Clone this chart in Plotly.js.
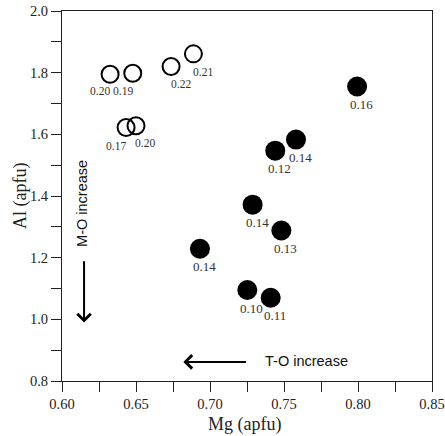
<!DOCTYPE html>
<html>
<head>
<meta charset="utf-8">
<script src="https://cdn.plot.ly/plotly-3.0.1.min.js"></script>
<style>html,body{margin:0;padding:0;background:#fff;}#chart{width:445px;height:436px;}</style>
</head>
<body>
<div id="chart"></div>
<script>
// ---- data ----
var openMg = [0.6325, 0.6478, 0.6737, 0.6888, 0.6433, 0.6500];
var openAl = [1.795, 1.798, 1.820, 1.861, 1.622, 1.628];
var openLabels = ['0.20', '0.19', '0.22', '0.21', '0.17', '0.20'];

var filledMg = [0.7994, 0.7441, 0.7581, 0.7288, 0.7482, 0.6932, 0.7252, 0.7410];
var filledAl = [1.755, 1.547, 1.583, 1.372, 1.288, 1.229, 1.095, 1.070];
var filledLabels = ['0.16', '0.12', '0.14', '0.14', '0.13', '0.14', '0.10', '0.11'];

var xTickVals = [0.60, 0.625, 0.65, 0.675, 0.70, 0.725, 0.75, 0.775, 0.80, 0.825, 0.85];
var xTickText = ['0.60', '', '0.65', '', '0.70', '', '0.75', '', '0.80', '', '0.85'];
var yTickVals = [0.8, 0.9, 1.0, 1.1, 1.2, 1.3, 1.4, 1.5, 1.6, 1.7, 1.8, 1.9, 2.0];
var yTickText = ['0.8', '', '1.0', '', '1.2', '', '1.4', '', '1.6', '', '1.8', '', '2.0'];

// ---- label placement (style) ----
var openDx = [-10, -10, 10, 10, -10.5, 9];
var openDy = [17, 18, 17, 18, 18, 17];
var filledDx = 4.5, filledDy = 18;

var serif = "Liberation Serif";
var sans = "Liberation Sans";

var traces = [
  {
    x: openMg, y: openAl, type: 'scatter', mode: 'markers',
    marker: {size: 17, color: 'rgba(0,0,0,0)', line: {color: '#000', width: 2}},
    hoverinfo: 'skip', showlegend: false
  },
  {
    x: filledMg, y: filledAl, type: 'scatter', mode: 'markers',
    marker: {size: 20, color: '#000', line: {width: 0}},
    hoverinfo: 'skip', showlegend: false
  }
];

function txt(o) { o.xanchor = 'center'; o.yanchor = 'middle'; o.showarrow = false; return o; }

var annotations = [];
openMg.forEach(function (m, i) {
  annotations.push(txt({x: m, y: openAl[i], xref: 'x', yref: 'y', text: openLabels[i],
    xshift: openDx[i], yshift: -openDy[i],
    font: {family: serif, size: 11.5, color: '#333'}}));
});
filledMg.forEach(function (m, i) {
  annotations.push(txt({x: m, y: filledAl[i], xref: 'x', yref: 'y', text: filledLabels[i],
    xshift: filledDx, yshift: -filledDy,
    font: {family: serif, size: 13, color: '#333'}}));
});
// arrows
annotations.push({x: 0.682, y: 0.862, ax: 0.7253, ay: 0.862, xref: 'x', yref: 'y', axref: 'x', ayref: 'y',
  text: '', showarrow: true, arrowhead: 4, arrowsize: 1.3, arrowwidth: 2, arrowcolor: '#000', standoff: 0});
annotations.push({x: 0.6149, y: 0.9895, ax: 0.6149, ay: 1.1935, xref: 'x', yref: 'y', axref: 'x', ayref: 'y',
  text: '', showarrow: true, arrowhead: 4, arrowsize: 1.3, arrowwidth: 2, arrowcolor: '#000', standoff: 0});
annotations.push(txt({x: 0.765, y: 0.866, xref: 'x', yref: 'y', text: 'T-O increase',
  font: {family: sans, size: 14.5, color: '#111'}}));
annotations.push(txt({x: 0.613, y: 1.375, xref: 'x', yref: 'y', text: 'M-O increase', textangle: -90,
  font: {family: sans, size: 14.5, color: '#111'}}));
// axis titles
annotations.push(txt({x: 0.492, y: -0.117, xref: 'paper', yref: 'paper', text: 'Mg (apfu)',
  font: {family: serif, size: 18, color: '#222'}}));
annotations.push(txt({x: -0.1136, y: 0.5, xref: 'paper', yref: 'paper', text: 'Al (apfu)', textangle: -90,
  font: {family: serif, size: 18, color: '#222'}}));

var layout = {
  width: 445, height: 436,
  margin: {l: 62, r: 13, t: 11, b: 55, pad: 0},
  paper_bgcolor: '#fff', plot_bgcolor: '#fff',
  font: {family: serif, color: '#222', size: 14},
  xaxis: {
    range: [0.6, 0.85], tickmode: 'array', tickvals: xTickVals, ticktext: xTickText,
    ticks: 'outside', ticklen: 10, tickwidth: 1, tickcolor: '#222',
    showline: true, linecolor: '#222', linewidth: 1, mirror: true,
    showgrid: false, zeroline: false,
    tickfont: {family: serif, size: 14.5, color: '#222'}
  },
  yaxis: {
    range: [0.8, 2.0], tickmode: 'array', tickvals: yTickVals, ticktext: yTickText,
    ticks: 'outside', ticklen: 10, tickwidth: 1, tickcolor: '#222',
    showline: true, linecolor: '#222', linewidth: 1, mirror: true,
    showgrid: false, zeroline: false,
    tickfont: {family: serif, size: 14.5, color: '#222'}
  },
  annotations: annotations,
  showlegend: false
};

Plotly.newPlot('chart', traces, layout, {displayModeBar: false, staticPlot: true});
</script>
</body>
</html>
